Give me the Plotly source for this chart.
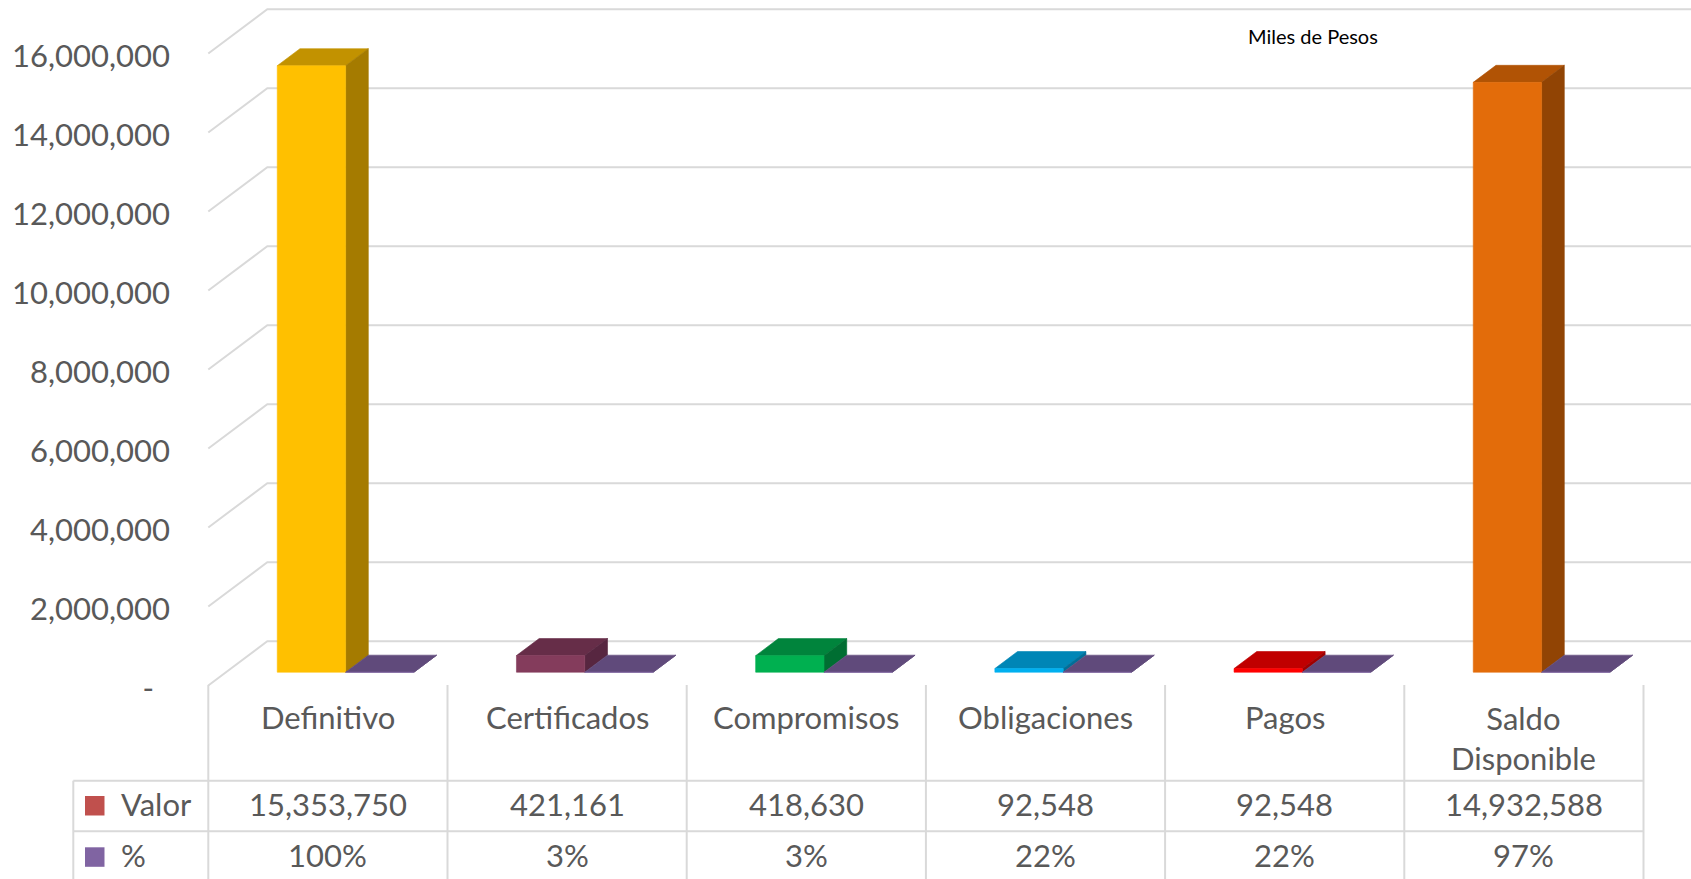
import plotly.graph_objects as go

# ---- data -------------------------------------------------------------
categories = ["Definitivo", "Certificados", "Compromisos", "Obligaciones", "Pagos", "Saldo Disponible"]
category_labels = ["Definitivo", "Certificados", "Compromisos", "Obligaciones", "Pagos", "Saldo<br>Disponible"]
valor = [15353750, 421161, 418630, 92548, 92548, 14932588]
porcentaje = [1.00, 0.03, 0.03, 0.22, 0.22, 0.97]
y_ticks = [0, 2000000, 4000000, 6000000, 8000000, 10000000, 12000000, 14000000, 16000000]
y_tick_labels = ["-\u00a0\u00a0"] + [f"{v:,}" for v in y_ticks[1:]]

# face colours per category: front, top, side
front_colors = ["#FFC000", "#843C5C", "#00B050", "#00B0F0", "#FF0000", "#E36C0A"]
top_colors = ["#C29200", "#662D48", "#00843C", "#0086B6", "#C00000", "#B15305"]
side_colors = ["#A57B00", "#572640", "#006E32", "#006F99", "#A00000", "#914404"]
pct_top = "#604A7B"
pct_front = "#8064A2"

# ---- geometry of the oblique projection --------------------------------
W, H = 1691, 879
X0_PX = 208.3          # front-left corner of the floor
UNIT_PX = 239.2        # width of one category
Y0_PX = 685.5          # value 0 on the front plane
PX_PER_VAL = 39.5e-6   # pixels per unit of value
DEPTH_DX_PX, DEPTH_DY_PX = 59.0, 44.3

x_range = [-X0_PX / UNIT_PX, (W - X0_PX) / UNIT_PX]
y_range = [(Y0_PX - H) / PX_PER_VAL, Y0_PX / PX_PER_VAL]
DX = DEPTH_DX_PX / UNIT_PX
DY = DEPTH_DY_PX / PX_PER_VAL

BAR_W = 1 / 3.5        # two bars plus 150% gap per category
BAR_OFF = 0.75 * BAR_W
F0, FD = 0.30, 0.385   # bar front depth and bar thickness (fractions of depth)


def px_x(p):
    return p / W


def px_y(p):
    return 1 - p / H


def data_x(p):
    return (p - X0_PX) / UNIT_PX


GRID = "#D9D9D9"
TEXT = "#595959"
FONT = "Lato"

fig = go.Figure()


def poly(xs, ys, color, line_color=None, width=0.6):
    fig.add_trace(go.Scatter(
        x=xs + [xs[0]], y=ys + [ys[0]], mode="lines", fill="toself",
        fillcolor=color, line=dict(color=line_color or color, width=width),
        hoverinfo="skip", showlegend=False))


# back wall gridlines and left wall diagonals
for v in y_ticks:
    fig.add_trace(go.Scatter(
        x=[0, DX, x_range[1]], y=[v, v + DY, v + DY], mode="lines",
        line=dict(color=GRID, width=2), hoverinfo="skip", showlegend=False))


def box(left, value, front, top, side, edge=None):
    right = left + BAR_W
    y0 = F0 * DY
    y1 = y0 + value
    ddx, ddy = FD * DX, FD * DY
    # top face
    poly([left, right, right + ddx, left + ddx], [y1, y1, y1 + ddy, y1 + ddy], top)
    # right side face
    poly([right, right + ddx, right + ddx, right], [y0, y0 + ddy, y1 + ddy, y1], side)
    # front face
    poly([left, right, right, left], [y0, y0, y1, y1], front, line_color=edge)


for i in range(len(categories)):
    left = i + BAR_OFF + F0 * DX
    box(left, valor[i], front_colors[i], top_colors[i], side_colors[i])
    box(left + BAR_W, porcentaje[i], pct_front, pct_top, pct_top, edge=pct_front)

# ---- data table below the floor ---------------------------------------
shapes = []
ROW1, ROW2 = 780.7, 831.3
LEG_X = data_x(73.3)
for i in range(len(categories) + 1):
    shapes.append(dict(type="line", xref="x", yref="paper", x0=i, x1=i,
                       y0=px_y(685), y1=0, line=dict(color=GRID, width=2)))
shapes.append(dict(type="line", xref="x", yref="paper", x0=LEG_X, x1=LEG_X,
                   y0=px_y(ROW1), y1=0, line=dict(color=GRID, width=2)))
for row in (ROW1, ROW2):
    shapes.append(dict(type="line", xref="x", yref="paper", x0=LEG_X, x1=len(categories),
                       y0=px_y(row), y1=px_y(row), line=dict(color=GRID, width=2)))
# legend keys
shapes.append(dict(type="rect", xref="paper", yref="paper", x0=px_x(85), x1=px_x(104.5),
                   y0=px_y(796), y1=px_y(815.5), fillcolor="#C0504D", line=dict(width=0)))
shapes.append(dict(type="rect", xref="paper", yref="paper", x0=px_x(85), x1=px_x(104.5),
                   y0=px_y(847.3), y1=px_y(866.8), fillcolor="#8064A2", line=dict(width=0)))

annotations = []
for i, lab in enumerate(category_labels):
    yc = 738 if "<br>" in lab else 717
    annotations.append(dict(text=lab, xref="x", yref="paper", x=i + 0.5, y=px_y(yc),
                            xanchor="center", yanchor="middle", showarrow=False,
                            font=dict(size=31, color=TEXT, family=FONT)))
    annotations.append(dict(text=f"{valor[i]:,}", xref="x", yref="paper", x=i + 0.5, y=px_y(804),
                            xanchor="center", yanchor="middle", showarrow=False,
                            font=dict(size=31, color=TEXT, family=FONT)))
    annotations.append(dict(text=f"{round(porcentaje[i] * 100)}%", xref="x", yref="paper",
                            x=i + 0.5, y=px_y(855), xanchor="center", yanchor="middle",
                            showarrow=False, font=dict(size=31, color=TEXT, family=FONT)))
for name, yc in (("Valor", 804), ("%", 855)):
    annotations.append(dict(text=name, xref="paper", yref="paper", x=px_x(119), y=px_y(yc),
                            xanchor="left", yanchor="middle", showarrow=False,
                            font=dict(size=31, color=TEXT, family=FONT)))
annotations.append(dict(text="Miles de Pesos", xref="paper", yref="paper", x=px_x(1313),
                        y=px_y(36), xanchor="center", yanchor="middle", showarrow=False,
                        font=dict(size=20, color="#000000", family=FONT)))

fig.update_layout(
    width=W, height=H, margin=dict(l=0, r=0, t=0, b=0),
    paper_bgcolor="white", plot_bgcolor="white",
    font=dict(family=FONT, color=TEXT),
    xaxis=dict(range=x_range, visible=False, fixedrange=True, domain=[0, 1]),
    yaxis=dict(range=y_range, domain=[0, 1], anchor="free", position=px_x(170),
               tickvals=y_ticks, ticktext=y_tick_labels, showgrid=False, zeroline=False,
               showline=False, ticks="", fixedrange=True, ticklabelshift=3,
               tickfont=dict(size=31, color=TEXT, family=FONT)),
    shapes=shapes, annotations=annotations, showlegend=False,
)

fig.write_html("out.html", config={"displayModeBar": False})
